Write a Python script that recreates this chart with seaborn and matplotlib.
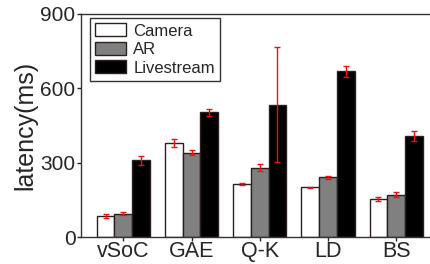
import numpy as np
import pandas as pd
import matplotlib
matplotlib.use('Agg')
import matplotlib.pyplot as plt
import seaborn as sns

apps = ['vSoC', 'GAE', 'Q-K', 'LD', 'BS']
modes = ['Camera', 'AR', 'Livestream']
camera = [85, 379, 215, 200, 152]
ar = [95, 340, 280, 241, 170]
livestream = [309, 503, 534, 669, 408]
camera_err = [7, 15, 5, 4, 8]
ar_err = [5, 10, 15, 5, 10]
livestream_err = [18, 15, 233, 22, 20]

df = pd.DataFrame({
    'app': apps * 3,
    'mode': [m for m in modes for _ in apps],
    'latency': camera + ar + livestream,
    'err': camera_err + ar_err + livestream_err,
})

sns.set_style('ticks')
plt.rcParams['font.family'] = ['Liberation Sans', 'DejaVu Sans']

fig = plt.figure(figsize=(4.31, 2.64), dpi=100)
ax = fig.add_axes([0.188, 0.102, 0.815, 0.845])

sns.barplot(data=df, x='app', y='latency', hue='mode', hue_order=modes,
            palette=['white', '#808080', 'black'], edgecolor='#2b2020',
            linewidth=1.0, width=0.78, errorbar=None, ax=ax)

for cont, mode in zip(ax.containers, modes):
    errs = df[df['mode'] == mode]['err'].to_numpy()
    xs = [b.get_x() + b.get_width() / 2 for b in cont]
    ys = [b.get_height() for b in cont]
    ax.errorbar(xs, ys, yerr=errs, fmt='none', ecolor='#ee1111',
                elinewidth=1.0, capsize=2, capthick=1.0, zorder=5)

ax.set_ylim(0, 900)
ax.set_yticks([0, 300, 600, 900])
ax.set_xlim(-0.62, 4.53)
ax.set_xlabel('')
ax.set_ylabel('latency(ms)', fontsize=18, labelpad=2)
ax.tick_params(axis='both', length=3, width=1)
ax.tick_params(axis='y', labelsize=15, pad=1)
ax.tick_params(axis='x', labelsize=15.5, pad=0)
for s in ['left', 'bottom', 'top']:
    ax.spines[s].set_color('#333333')
    ax.spines[s].set_linewidth(1.0)
ax.spines['right'].set_visible(False)
ax.spines['top'].set_visible(True)

ax.legend(loc='upper left', bbox_to_anchor=(0.025, 0.98), fontsize=12,
          frameon=True, fancybox=False, edgecolor='#333333', framealpha=1,
          handlelength=1.9, handleheight=0.8, handletextpad=0.4,
          labelspacing=0.2, borderpad=0.3, borderaxespad=0)

fig.savefig('out.png', dpi=100)
